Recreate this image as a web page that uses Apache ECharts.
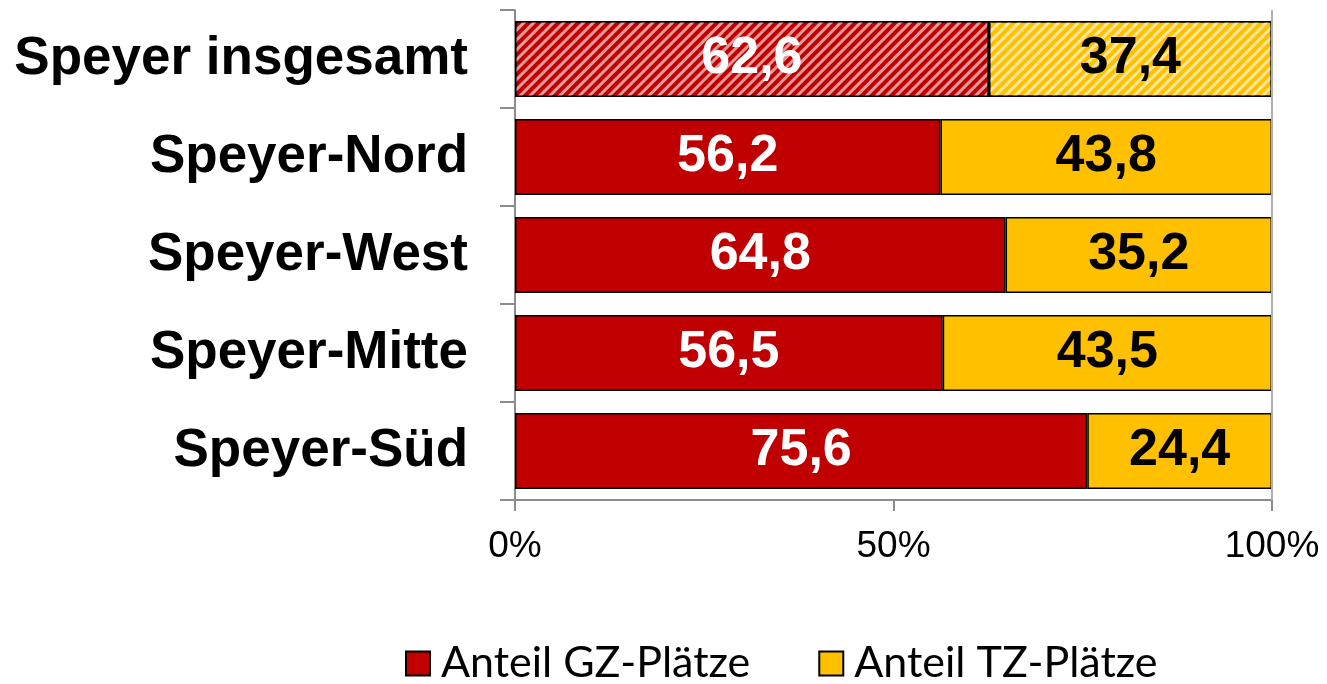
<!DOCTYPE html>
<html style="height: 100%">
<head>
    <meta charset="utf-8">
    <title>GZ / TZ Plätze</title>
    <script src="https://cdn.jsdelivr.net/npm/echarts@6/dist/echarts.min.js"></script>
</head>
<body style="height: 100%; margin: 0; background: #fff">
<div id="main" style="width: 1327px; height: 684px"></div>

<script type="text/javascript">
    // Daten
    var bezirke = ['Speyer insgesamt', 'Speyer-Nord', 'Speyer-West', 'Speyer-Mitte', 'Speyer-Süd'];
    var anteilGZ = [62.6, 56.2, 64.8, 56.5, 75.6];
    var anteilTZ = [37.4, 43.8, 35.2, 43.5, 24.4];
    var xTicks = [0, 50, 100];

    var rot = '#c00000';
    var gelb = '#ffc000';

    // erste Zeile (insgesamt) schraffiert
    var schraffur = {
        symbol: 'rect',
        symbolSize: 1,
        color: 'rgba(255,255,255,0.6)',
        dashArrayX: [1, 0],
        dashArrayY: [3, 4],
        rotation: -Math.PI / 4
    };

    function mitSchraffur(values) {
        return values.map(function (v, i) {
            if (i === 0) {
                return {value: v, itemStyle: {decal: schraffur}};
            }
            return v;
        });
    }

    function komma(p) {
        return p.value.toFixed(1).replace('.', ',');
    }

    var myChart = echarts.init(document.getElementById('main'));

    var option = {
        animation: false,
        textStyle: {fontFamily: 'Liberation Sans, Arial, sans-serif'},
        grid: {left: 515, right: 55, top: 10, bottom: 184},
        legend: {
            top: 637,
            left: 400,
            itemWidth: 24,
            itemHeight: 24,
            itemGap: 68,
            icon: 'rect',
            textStyle: {fontFamily: 'Lato, sans-serif', fontSize: 43, color: '#000', padding: [0, 0, 0, 6]},
            data: ['Anteil GZ-Plätze', 'Anteil TZ-Plätze']
        },
        xAxis: {
            type: 'value',
            min: 0,
            max: 100,
            interval: 50,
            axisLine: {show: true, lineStyle: {color: '#8c8c8c', width: 2}},
            axisTick: {show: true, length: 11, lineStyle: {color: '#8c8c8c', width: 2}},
            splitLine: {show: false},
            axisLabel: {
                margin: 28,
                fontSize: 37,
                color: '#000',
                formatter: function (v) {
                    return xTicks.indexOf(v) >= 0 ? v + '%' : '';
                }
            }
        },
        yAxis: {
            type: 'category',
            inverse: true,
            data: bezirke,
            axisLine: {show: true, lineStyle: {color: '#8c8c8c', width: 2}},
            axisTick: {show: true, length: 15, lineStyle: {color: '#8c8c8c', width: 2}},
            axisLabel: {margin: 47, fontSize: 53, fontWeight: 'bold', color: '#000'}
        },
        series: [
            {
                name: 'Anteil GZ-Plätze',
                type: 'bar',
                stack: 'gesamt',
                barWidth: 76,
                itemStyle: {color: rot, borderColor: '#000', borderWidth: 1.5},
                label: {
                    show: true,
                    position: 'inside',
                    color: '#fff',
                    fontSize: 52,
                    fontWeight: 'bold',
                    formatter: komma
                },
                data: mitSchraffur(anteilGZ),
                markLine: {
                    silent: true,
                    symbol: 'none',
                    label: {show: false},
                    lineStyle: {color: '#b0b0b0', width: 2, type: 'solid'},
                    data: [{xAxis: 100}]
                }
            },
            {
                name: 'Anteil TZ-Plätze',
                type: 'bar',
                stack: 'gesamt',
                barWidth: 76,
                itemStyle: {color: gelb, borderColor: '#000', borderWidth: 1.5},
                label: {
                    show: true,
                    position: 'inside',
                    color: '#000',
                    fontSize: 52,
                    fontWeight: 'bold',
                    formatter: komma
                },
                data: mitSchraffur(anteilTZ)
            }
        ]
    };
    myChart.setOption(option, true);
</script>
</body>
</html>
